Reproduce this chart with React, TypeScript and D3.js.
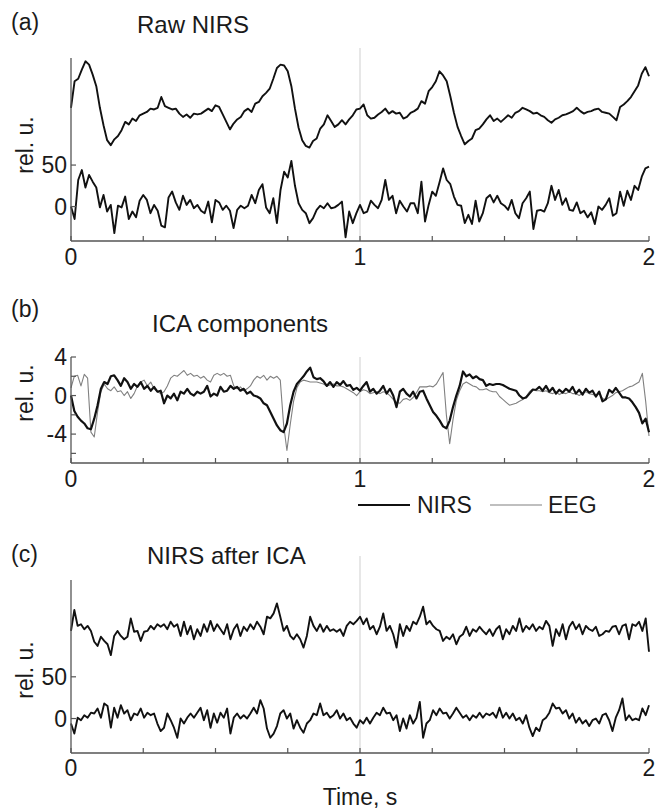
import React from 'react';
import * as d3 from 'd3';

// ---------- data ----------
// Panel (a): raw NIRS, two channels, sampled every 0.0125 s over 0..2 s
const rawTop = [
  119, 151, 154, 165, 175, 171, 159, 145, 119, 98,
  80, 74, 81, 85, 92, 102, 99, 106, 103, 110,
  112, 114, 118, 117, 119, 132, 121, 119, 117, 118,
  112, 108, 111, 107, 112, 111, 112, 115, 118, 115,
  122, 120, 111, 102, 93, 100, 105, 108, 115, 118,
  114, 124, 126, 133, 137, 142, 154, 167, 171, 170,
  163, 145, 118, 95, 80, 73, 71, 79, 82, 94,
  99, 110, 103, 96, 99, 104, 99, 105, 110, 117,
  118, 123, 110, 106, 107, 111, 114, 118, 112, 115,
  112, 113, 106, 108, 113, 115, 118, 127, 124, 139,
  144, 151, 163, 158, 151, 133, 113, 96, 85, 75,
  79, 82, 92, 94, 99, 105, 110, 103, 106, 102,
  106, 110, 107, 113, 115, 119, 117, 115, 112, 113,
  110, 108, 104, 101, 105, 107, 110, 111, 113, 115,
  119, 115, 112, 114, 115, 117, 118, 114, 113, 112,
  108, 104, 120, 123, 127, 132, 139, 146, 160, 168,
  157,
];
const rawBottom = [
  0, -15, 32, 44, 23, 38, 30, 23, -1, 14,
  -6, 2, -32, 1, -1, 12, -15, -6, -13, 7,
  14, 8, -8, 2, -5, -23, -25, 11, 18, 5,
  -4, 13, 2, 8, -2, 2, -5, -8, 6, -19,
  8, 5, -4, 1, -5, -26, -4, 1, -2, 1,
  14, 4, 20, 27, -1, -8, 10, -20, 20, 42,
  35, 55, 25, 4, -4, -8, -20, -14, -4, 1,
  -2, 4, -2, -1, 2, 6, -37, -6, -20, -8,
  2, -8, -6, 7, 2, -2, 8, 32, 8, 13,
  -8, 7, 0, -6, 4, 4, -8, 30, -18, 2,
  18, 13, 29, 46, 32, 27, 12, 2, 1, -20,
  -10, -21, 7, -18, -8, 10, 14, 5, 13, 4,
  1, -4, 8, -8, -14, 4, 10, 18, -27, -5,
  -4, -6, 4, 25, 8, 20, 2, 10, -4, -5,
  5, -8, -5, -13, -7, -21, 0, -4, 2, 10,
  -11, -8, 18, 1, 19, 8, 25, 20, 36, 46,
  48,
];

// Panel (b): ICA components, sampled every 2/174 s
const icaNirs = [
  0, -1.6, -2.2, -2.6, -2.9, -3.4, -3.5, -2.4, -1.0, 0.7,
  1.4, 1.2, 2.0, 2.1, 1.6, 1.0, 1.8, 1.4, 0.7, 1.2,
  0.9, 1.4, 0.7, 1.0, 0.5, 0.9, 0.4, 0.5, -0.8, 0,
  -0.3, 0.2, -0.5, 0.4, 0.2, 0.7, 0.2, 0, 0.4, 0.2,
  0.4, 1.0, -0.1, 0.2, 0, 0.9, 0.4, 0.5, 1.0, 0.7,
  0.9, 0.5, 0.7, 0.2, 0.4, 0, -0.1, -0.3, -0.8, -1.0,
  -1.7, -2.4, -3.1, -3.6, -3.8, -2.9, -1.0, 0.4, 1.2, 1.6,
  2.0, 2.5, 2.9, 1.9, 1.7, 1.8, 1.5, 1.0, 1.4, 0.9,
  1.4, 1.1, 1.5, 1.0, 1.1, 0.6, 0.8, 0.5, 1.0, 1.4,
  0.4, 0.7, 0.2, 0.5, 1.0, 0.2, 0.7, 0, -1.2, 0.4,
  0.7, 0.2, -0.1, 0.4, -0.3, 0.4, 0.5, -0.3, -1.0, -1.7,
  -2.1, -2.6, -3.2, -3.4, -2.6, -1.2, 0, 1.0, 2.5, 2.0,
  2.2, 1.8, 2.0, 1.7, 1.6, 1.0, 1.2, 1.1, 1.2, 1.2,
  1.1, 0.9, 0.7, 0.6, 0.5, 0, -0.3, -0.2, 0.2, 0.6,
  0.6, 0.9, 0.5, 1.0, 0.4, 0.8, 0.2, 0.6, 0.3, 0.7,
  0.4, 0.9, 0.2, 0.6, 0.1, 0.7, 0.3, 0.5, -0.1, 0.4,
  -0.6, -0.4, 0.6, 0.3, 0.8, 0.3, -0.2, -0.2, -0.3, -0.7,
  -1.2, -1.8, -2.9, -2.4, -3.8,
];
const icaEeg = [
  0.8, 2.0, 2.1, 1.0, 2.2, 1.8, -3.8, -4.3, -1.7, 0.4,
  1.2, 0.7, 0.5, 0.9, 0.4, 0.5, 0, 0.4, -0.3, 0.2,
  1.0, 1.4, 1.6, 1.0, 1.4, 0.7, 0.4, 0.2, 0.4, 1.0,
  1.8, 2.1, 2.0, 2.3, 2.6, 2.1, 2.3, 2.0, 2.1, 1.8,
  2.0, 1.6, 1.4, 2.1, 2.3, 2.1, 2.3, 2.0, 2.1, 1.0,
  0.7, 0.9, 0.5, 0.7, 1.0, 1.6, 2.0, 1.8, 2.1, 1.6,
  2.0, 1.8, 2.0, 1.6, -3.0, -5.7, -3.0, -0.6, 0.8, 1.4,
  1.6, 1.5, 1.4, 1.4, 1.4, 1.3, 1.2, 1.0, 1.1, 1.2,
  1.0, 1.0, 0.9, 0.7, 0.5, 0.3, 0, 0.4, 0.6, 0.5,
  0.2, 0.3, 0.4, 0.2, 0.4, 0.3, 0, -0.4, -0.7, -0.8,
  -0.4, -0.3, -0.5, -0.2, 0.3, 0.9, 0.9, 0.9, 1.0, 0.9,
  1.2, 1.8, 2.4, -2.0, -5.0, -2.5, -0.5, 0.5, 1.2, 1.4,
  1.2, 1.0, 0.9, 0.6, 0.6, 0.7, 0.5, 0.4, 0.4, -0.1,
  -0.4, -0.7, -1.0, -0.9, -0.8, -0.6, -0.4, -0.1, 0.4, 0.7,
  0.5, 0.5, 0.4, 0.5, 0.3, 0.2, 0.4, 0.1, 0.3, 0.2,
  0.4, 0.2, 0.2, 0, 0.3, 0.4, 0.2, 0.1, 0, 0.2,
  -0.3, -0.4, -0.2, 0, 0.3, 0.4, 0.5, 0.7, 0.9, 1.0,
  1.2, 1.4, 2.3, -0.6, -4.2,
];

// Panel (c): NIRS after ICA, sampled every 2/174 s
const cleanTop = [
  105, 130, 111, 113, 107, 111, 105, 92, 87, 98,
  93, 89, 76, 99, 105, 99, 95, 98, 120, 104,
  105, 93, 104, 105, 111, 107, 113, 110, 113, 107,
  116, 110, 113, 99, 116, 101, 111, 95, 107, 99,
  113, 104, 117, 105, 113, 107, 101, 113, 95, 107,
  113, 99, 110, 105, 113, 107, 116, 110, 101, 122,
  120, 126, 138, 122, 105, 111, 99, 95, 101, 95,
  85, 99, 122, 111, 105, 113, 104, 111, 105, 107,
  104, 107, 99, 111, 116, 113, 117, 122, 113, 120,
  107, 111, 101, 110, 126, 105, 111, 101, 85, 113,
  99, 111, 105, 116, 113, 122, 134, 113, 117, 111,
  107, 105, 93, 98, 95, 101, 89, 98, 101, 110,
  99, 107, 104, 110, 105, 101, 107, 99, 107, 111,
  95, 107, 101, 111, 105, 120, 104, 111, 107, 113,
  105, 110, 107, 117, 111, 87, 107, 99, 113, 95,
  110, 116, 107, 113, 101, 111, 107, 105, 110, 99,
  101, 105, 104, 110, 111, 101, 111, 113, 95, 113,
  111, 116, 105, 120, 80,
];
const cleanBottom = [
  -6, -18, 1, -2, 4, 1, 7, 6, 12, 1,
  18, 15, -11, 13, 1, 16, 6, 10, -2, 6,
  4, 12, 1, 7, 4, 6, -6, -15, -11, 6,
  -2, -11, -23, 0, -6, 1, 6, 1, 7, 13,
  -2, 10, -11, 6, -5, 7, 1, 12, -18, 1,
  6, 0, 4, 0, 6, 13, 6, 22, 12, -12,
  -23, -18, -9, 6, 10, 0, 6, -12, -2, -11,
  -17, -6, -2, 6, 4, 18, 4, 7, 1, 4,
  10, 0, 6, -2, 1, -6, -11, -2, -6, 1,
  -6, 1, 7, 4, 13, 6, 7, -2, 4, -15,
  0, -12, 4, -6, 1, 20, -23, -6, -2, 10,
  4, 12, 6, 7, 0, 6, 13, 7, 1, 4,
  -2, 4, 1, 7, 1, 6, 4, 7, 1, 13,
  1, 7, 0, 6, -2, 1, -6, 4, -11, -21,
  -11, -15, -2, 1, 7, 18, 12, 13, 6, 10,
  0, 6, -5, 1, -6, -2, -9, -2, 0, -6,
  4, 6, -2, -15, 1, 10, 24, -2, 4, -2,
  0, -2, 12, 4, 16,
];

const xTicks = [0, 0.25, 0.5, 0.75, 1, 1.25, 1.5, 1.75, 2];
const xTickLabels = [0, 1, 2];
const yTicksA = [0, 50];
const yTicksB = [-6, -4, -2, 0, 2, 4];
const yLabelsB = [-4, 0, 4];
const yTicksC = [0, 50];
const legendLabels = ['NIRS', 'EEG'];

// ---------- layout ----------
const W = 662;
const H = 809;
const FONT = "'Liberation Sans', Arial, Helvetica, sans-serif";
const AXIS = '#555';
const TXT = '#1a1a1a';

const xScale = d3.scaleLinear().domain([0, 2]).range([71, 649]);

type Series = { values: number[]; color: string; width: number };

type PanelProps = {
  top: number;
  bottom: number;
  yDomain: [number, number];
  yTicks: number[];
  yLabels: number[];
  series: Series[];
  letter: string;
  letterY: number;
  title: string;
  titleX: number;
  titleY: number;
  relY: number;
  gridTop: number;
  xLabelY: number;
};

function Panel(p: PanelProps) {
  const y = d3.scaleLinear().domain(p.yDomain).range([p.bottom, p.top]);
  const x0 = xScale(0);
  const x2 = xScale(2);
  return (
    <g>
      <line x1={xScale(1)} x2={xScale(1)} y1={p.gridTop} y2={p.bottom} stroke="#cfcfcf" strokeWidth={1} />
      {p.series.map((s, si) => {
        const n = s.values.length;
        const line = d3
          .line<number>()
          .x((_, i) => xScale((i * 2) / (n - 1)))
          .y((v) => y(v));
        return (
          <path
            key={si}
            d={line(s.values) || ''}
            fill="none"
            stroke={s.color}
            strokeWidth={s.width}
            strokeLinejoin="round"
          />
        );
      })}
      {/* axes */}
      <line x1={x0} x2={x0} y1={p.top} y2={p.bottom} stroke={AXIS} strokeWidth={1.3} />
      <line x1={x0} x2={x2} y1={p.bottom} y2={p.bottom} stroke={AXIS} strokeWidth={1.3} />
      {xTicks.map((t) => (
        <line key={'xt' + t} x1={xScale(t)} x2={xScale(t)} y1={p.bottom} y2={p.bottom - 5} stroke={AXIS} strokeWidth={1.2} />
      ))}
      {xTickLabels.map((t) => (
        <text key={'xl' + t} x={xScale(t)} y={p.xLabelY} textAnchor="middle" fontSize={23} fill={TXT} fontFamily={FONT}>
          {t}
        </text>
      ))}
      {p.yTicks.map((t) => (
        <line key={'yt' + t} x1={x0} x2={x0 + 5} y1={y(t)} y2={y(t)} stroke={AXIS} strokeWidth={1.2} />
      ))}
      {p.yLabels.map((t) => (
        <text key={'yl' + t} x={x0 - 4} y={y(t) + 8} textAnchor="end" fontSize={23} fill={TXT} fontFamily={FONT}>
          {String(t)}
        </text>
      ))}
      <text
        transform={`translate(33, ${p.relY}) rotate(-90)`}
        textAnchor="middle"
        fontSize={23}
        fill={TXT}
        fontFamily={FONT}
      >
        rel. u.
      </text>
      <text x={11} y={p.letterY} fontSize={23} fill={TXT} fontFamily={FONT}>
        {p.letter}
      </text>
      <text x={p.titleX} y={p.titleY} fontSize={24} fill={TXT} fontFamily={FONT}>
        {p.title}
      </text>
    </g>
  );
}

export default function App() {
  return (
    <svg
      width={W}
      height={H}
      viewBox={`0 0 ${W} ${H}`}
      style={{ position: 'absolute', left: 0, top: 0, background: '#fff' }}
    >
      <rect x={0} y={0} width={W} height={H} fill="#fff" />
      <Panel
        top={58}
        bottom={241}
        yDomain={[-41.5, 179]}
        yTicks={yTicksA}
        yLabels={yTicksA}
        series={[
          { values: rawTop, color: '#111', width: 1.9 },
          { values: rawBottom, color: '#111', width: 1.9 },
        ]}
        letter="(a)"
        letterY={30}
        title="Raw NIRS"
        titleX={137}
        titleY={33}
        relY={145}
        gridTop={48}
        xLabelY={265}
      />
      <Panel
        top={357}
        bottom={463}
        yDomain={[-7, 4]}
        yTicks={yTicksB}
        yLabels={yLabelsB}
        series={[
          { values: icaEeg, color: '#808080', width: 1.1 },
          { values: icaNirs, color: '#111', width: 2.2 },
        ]}
        letter="(b)"
        letterY={317}
        title="ICA components"
        titleX={152}
        titleY={332}
        relY={393}
        gridTop={357}
        xLabelY={487}
      />
      {/* legend */}
      <g fontFamily={FONT} fontSize={23} fill={TXT}>
        <line x1={358} x2={410} y1={505} y2={505} stroke="#111" strokeWidth={2.2} />
        <text x={417} y={513}>{legendLabels[0]}</text>
        <line x1={490} x2={542} y1={505} y2={505} stroke="#808080" strokeWidth={1.1} />
        <text x={548} y={513}>{legendLabels[1]}</text>
      </g>
      <Panel
        top={580}
        bottom={753}
        yDomain={[-41.3, 166]}
        yTicks={yTicksC}
        yLabels={yTicksC}
        series={[
          { values: cleanTop, color: '#111', width: 1.9 },
          { values: cleanBottom, color: '#111', width: 1.9 },
        ]}
        letter="(c)"
        letterY={562}
        title="NIRS after ICA"
        titleX={147}
        titleY={564}
        relY={670}
        gridTop={556}
        xLabelY={776}
      />
      <text x={xScale(1)} y={805} textAnchor="middle" fontSize={23} fill={TXT} fontFamily={FONT}>
        Time, s
      </text>
    </svg>
  );
}
